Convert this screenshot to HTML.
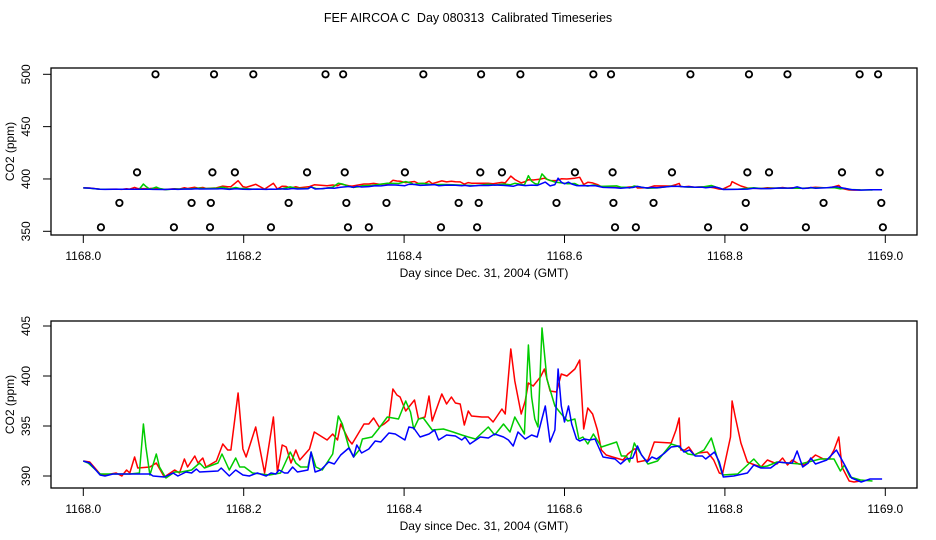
<!DOCTYPE html>
<html><head><meta charset="utf-8"><style>
body{margin:0;background:#fff;}
svg{display:block;font-family:"Liberation Sans",sans-serif;}
</style></head><body>
<svg id="c" width="936" height="540" xmlns="http://www.w3.org/2000/svg">
<text x="468" y="22" text-anchor="middle" font-size="12.5" style="white-space:pre" xml:space="preserve">FEF AIRCOA C  Day 080313  Calibrated Timeseries</text>
</svg>
<script>
const redD=[0,.008,.021,.027,.041,.048,.054,.058,.064,.068,.083,.091,.101,.114,.120,.126,.130,.139,.143,.149,.153,.166,.174,.180,.184,.193,.199,.203,.215,.226,.237,.242,.248,.253,.259,.265,.270,.282,.288,.304,.311,.317,.321,.331,.335,.350,.356,.362,.369,.375,.381,.386,.391,.395,.402,.413,.418,.426,.431,.435,.447,.453,.459,.464,.470,.475,.480,.484,.497,.505,.511,.522,.526,.533,.538,.546,.551,.555,.561,.570,.575,.582,.590,.596,.603,.613,.619,.624,.629,.635,.641,.646,.652,.660,.673,.679,.687,.689,.691,.704,.712,.733,.739,.743,.745,.750,.755,.762,.767,.778,.786,.793,.797,.807,.809,.813,.820,.828,.834,.845,.853,.865,.872,.878,.884,.892,.899,.903,.913,.923,.930,.936,.942,.946,.955,.961,.969,.984];
const redV=[391.5,391.4,390.2,390.1,390.3,390,390.6,390.3,391.9,390.8,390.9,391.3,389.9,390.6,390.3,391.7,390.9,392.0,391.3,391.8,390.9,391.5,393.2,392.6,392.6,398.3,392.7,391.9,394.9,390.3,395.9,390.4,393.1,392.9,391.3,392.6,391.6,392.7,394.4,393.6,394.2,393.6,395.2,393.6,393.2,395.2,395.2,395.8,394.9,395.2,395.6,398.7,398.1,397.9,396.5,397.6,395.7,395.9,398.0,395.5,398.2,397.2,397.9,397.3,397.2,395.1,396.5,396.0,395.9,395.9,395.4,396.7,396.2,402.7,399.5,396.2,397.5,399.3,399.0,399.9,400.7,398.5,398.4,400.2,400.0,400.7,401.6,394.7,396.8,396.2,394.6,392.6,392.1,391.9,391.6,392.2,392.7,392.7,391.4,391.6,393.4,393.3,394.6,395.8,392.6,392.6,392.9,392.1,392.3,392.4,391.6,390.3,390.2,393.9,397.5,395.9,393.3,391.4,391.2,390.9,391.6,391.2,391.8,391.1,391.6,391.2,391.1,391.4,392.1,391.7,391.7,392.6,393.9,390.9,389.5,389.4,389.5];
const greenD=[0,.006,.021,.027,.058,.070,.075,.078,.083,.091,.095,.103,.114,.122,.135,.145,.151,.168,.173,.182,.190,.195,.201,.211,.232,.246,.258,.265,.271,.280,.284,.290,.298,.311,.318,.323,.331,.337,.344,.348,.360,.368,.379,.393,.402,.408,.412,.418,.424,.435,.449,.461,.472,.480,.489,.505,.513,.524,.532,.538,.550,.555,.559,.563,.567,.572,.578,.588,.596,.604,.613,.618,.623,.629,.636,.646,.665,.671,.677,.681,.687,.691,.704,.716,.733,.741,.754,.762,.774,.783,.789,.797,.816,.836,.845,.853,.865,.878,.894,.919,.936,.944,.949,.956,.969,.984];
const greenV=[391.5,391.3,390.2,390.2,390.2,390.3,395.2,392.9,390.1,392.2,390.9,389.8,390.4,390.4,390.6,391.3,390.8,391.3,392.2,390.6,391.8,390.9,390.9,390.3,390.1,390.3,392.4,391.3,390.9,390.9,392.4,390.9,390.6,392.2,396.0,395.2,392.9,391.9,392.6,393.7,393.9,394.7,395.9,395.7,397.5,396.4,394.7,395.7,395.8,394.6,394.7,394.4,394.1,393.9,393.7,394.9,394.1,395.2,394.4,395.9,394.2,403.1,397.9,395.7,394.9,404.8,399.7,397.0,396.2,395.5,395.7,393.7,393.9,393.2,394.2,392.9,393.4,392.0,392.0,391.4,393.3,392.7,391.2,391.5,393.2,393.0,392.2,392.1,392.6,393.8,392.2,390.1,390.2,391.7,390.9,391.0,391.4,391.3,391.2,391.7,391.7,390.5,391.1,389.9,389.6,389.5];
const blueD=[0,.008,.021,.027,.037,.048,.083,.087,.101,.112,.118,.128,.135,.141,.145,.168,.172,.182,.190,.199,.207,.217,.228,.234,.240,.244,.251,.255,.261,.267,.280,.284,.289,.296,.306,.313,.321,.331,.337,.341,.347,.356,.364,.371,.381,.389,.395,.401,.406,.412,.420,.431,.438,.443,.453,.464,.472,.476,.482,.495,.505,.513,.524,.530,.536,.542,.551,.559,.566,.576,.582,.588,.592,.596,.600,.605,.609,.615,.619,.625,.631,.638,.648,.663,.670,.677,.685,.691,.696,.703,.709,.715,.725,.733,.743,.749,.756,.763,.772,.776,.787,.793,.798,.811,.828,.836,.845,.857,.867,.878,.884,.890,.897,.904,.907,.913,.927,.939,.948,.958,.970,.981,.996];
const blueV=[391.5,391.3,390.1,390.0,390.2,390.2,390.2,390.0,389.9,390.3,390.0,390.4,390.3,390.7,390.4,390.5,390.8,390.0,390.6,390.1,390.0,390.3,390.0,390.3,390.2,390.6,390.3,390.3,390.9,390.4,390.6,392.4,390.4,390.6,391.4,391.2,392.1,392.8,391.9,393.1,392.3,392.7,393.5,393.4,394.3,394.2,393.9,393.6,394.9,394.8,393.9,394.2,394.6,393.6,394.1,394.0,393.6,393.9,393.2,393.9,393.8,394.2,393.9,393.6,393.0,394.4,393.7,394.1,393.9,397.0,393.4,394.6,400.7,397.0,395.4,397.0,395.2,393.7,393.5,393.7,393.6,393.7,391.9,391.7,391.2,391.7,391.8,393.0,392.1,391.4,391.9,391.7,392.3,392.9,393.0,392.4,392.6,392.0,392.0,391.7,392.4,391.4,389.9,390.0,390.3,391.1,390.8,390.8,391.4,391.3,391.3,392.5,390.9,391.3,391.8,391.2,391.6,392.6,391.3,389.8,389.4,389.7,389.7];
const circ500=[.090,.163,.212,.302,.324,.424,.496,.545,.636,.658,.757,.830,.878,.968,.991];
const circ406=[.067,.161,.189,.279,.326,.401,.495,.522,.613,.660,.734,.828,.855,.946,.993];
const circ377=[.045,.135,.159,.256,.328,.378,.468,.493,.590,.661,.711,.826,.923,.995];
const circ354=[.022,.113,.158,.234,.330,.356,.446,.491,.663,.689,.779,.824,.901,.997];
const circLevels=[500,406.3,377.1,353.8];
const xTicks=["1168.0","1168.2","1168.4","1168.6","1168.8","1169.0"];
const topYTicks=[350,400,450,500];
const botYTicks=[390,395,400,405];

const svg=document.getElementById('c');
const NS='http://www.w3.org/2000/svg';
function mk(t,a){const e=document.createElementNS(NS,t);for(const k in a)e.setAttribute(k,a[k]);svg.appendChild(e);return e;}
const X=d=>83.3+d*802;

function panel(pfx,top,bot,yv0,yp0,yv1,yp1,yticks){
  const Y=v=>yp0+(v-yv0)*(yp1-yp0)/(yv1-yv0);
  const box=mk('rect',{x:51,y:top,width:866,height:bot-top,fill:'none',stroke:'#000','stroke-width':1.3});
  
  
  xTicks.forEach((t,i)=>{
    const x=X(i*0.2);
    const l=mk('line',{x1:x,x2:x,y1:bot,y2:bot+8,stroke:'#000'});
    
    
    const tx=mk('text',{x:x,y:bot+25,'text-anchor':'middle','font-size':12});
    tx.textContent=t;
    
    
  });
  yticks.forEach(v=>{
    const y=Y(v);
    const l=mk('line',{x1:43,x2:51,y1:y,y2:y,stroke:'#000'});
    
    
    const tx=mk('text',{x:30,y:y,'text-anchor':'middle','font-size':12,transform:`rotate(-90 30 ${y})`});
    tx.textContent=v;
    
    
  });
  const xl=mk('text',{x:484,y:bot+42,'text-anchor':'middle','font-size':12});
  xl.textContent='Day since Dec. 31, 2004 (GMT)';
  
  
  const cy=(top+bot)/2;
  const yl=mk('text',{x:14,y:cy,'text-anchor':'middle','font-size':12,transform:`rotate(-90 14 ${cy})`});
  yl.textContent='CO2 (ppm)';
  
  
  [[redD,redV,'#ff0000'],[greenD,greenV,'#00cc00'],[blueD,blueV,'#0000ff']].forEach(([D,V,c],k)=>{
    const p=mk('polyline',{points:D.map((d,i)=>X(d).toFixed(1)+','+Y(V[i]).toFixed(1)).join(' '),fill:'none',stroke:c,'stroke-width':1.5,'stroke-linejoin':'round'});
    
    
  });
  return Y;
}
const Yt=panel('top',68,235,350,231.3,500,74.3,topYTicks);
panel('bottom',321,488,390,476,405,326,botYTicks);
[circ500,circ406,circ377,circ354].forEach((arr,li)=>{
  arr.forEach(d=>{
    const c=mk('circle',{cx:X(d),cy:Yt(circLevels[li]),r:3.2,fill:'none',stroke:'#000','stroke-width':1.8});
    
    
  });
});
</script>
</body></html>
